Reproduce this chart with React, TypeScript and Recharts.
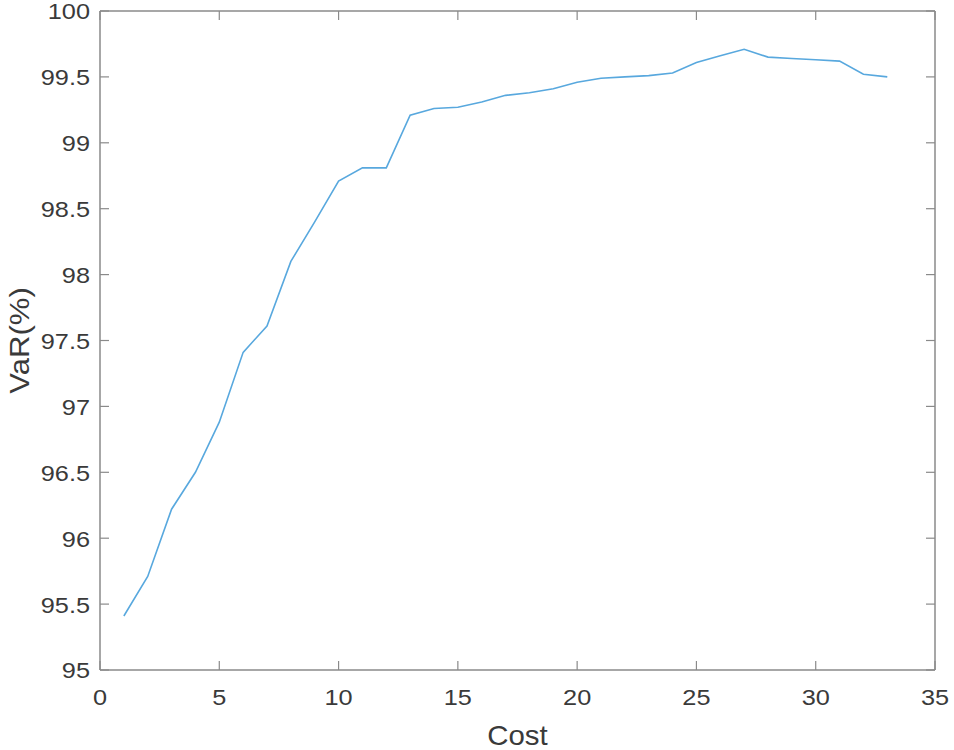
import React from 'react';
import { LineChart, Line, XAxis, YAxis } from 'recharts';

const costs = [1, 2, 3, 4, 5, 6, 7, 8, 9, 10, 11, 12, 13, 14, 15, 16, 17, 18, 19, 20, 21, 22, 23, 24, 25, 26, 27, 28, 29, 30, 31, 32, 33];
const varValues = [95.41, 95.71, 96.22, 96.5, 96.88, 97.41, 97.61, 98.1, 98.4, 98.71, 98.81, 98.81, 99.21, 99.26, 99.27, 99.31, 99.36, 99.38, 99.41, 99.46, 99.49, 99.5, 99.51, 99.53, 99.61, 99.66, 99.71, 99.65, 99.64, 99.63, 99.62, 99.52, 99.5];
const xTicks = [0, 5, 10, 15, 20, 25, 30, 35];
const yTicks = [95, 95.5, 96, 96.5, 97, 97.5, 98, 98.5, 99, 99.5, 100];

const data = costs.map((c, i) => ({ cost: c, value: varValues[i] }));

const FONT = '"Liberation Sans", Arial, Helvetica, sans-serif';
const TEXT = '#3a3a3a';
const AXIS = '#8a8a8a';
const TICK_LEN = 9;

const BottomTick = (props: any) => {
  const { x, y, payload } = props;
  return (
    <g>
      <line x1={x} x2={x} y1={y} y2={y - TICK_LEN} stroke={AXIS} strokeWidth={1.2} />
      <text transform={`translate(${x},${y + 28}) scale(1.15,1)`} x={0} y={0} textAnchor="middle" dominantBaseline="central" fontFamily={FONT} fontSize={22} fill={TEXT}>
        {payload.value}
      </text>
    </g>
  );
};

const TopTick = (props: any) => {
  const { x, y } = props;
  return <line x1={x} x2={x} y1={y} y2={y + TICK_LEN} stroke={AXIS} strokeWidth={1.2} />;
};

const LeftTick = (props: any) => {
  const { x, y, payload } = props;
  return (
    <g>
      <line x1={x} x2={x + TICK_LEN} y1={y} y2={y} stroke={AXIS} strokeWidth={1.2} />
      <text transform={`translate(${x - 10},${y + 1}) scale(1.15,1)`} x={0} y={0} textAnchor="end" dominantBaseline="central" fontFamily={FONT} fontSize={22} fill={TEXT}>
        {payload.value}
      </text>
    </g>
  );
};

const RightTick = (props: any) => {
  const { x, y } = props;
  return <line x1={x} x2={x - TICK_LEN} y1={y} y2={y} stroke={AXIS} strokeWidth={1.2} />;
};

const XTitle = (props: any) => {
  const { viewBox } = props;
  const vb = viewBox || { x: 0, y: 0, width: 0, height: 0 };
  const cx = vb.x + vb.width / 2;
  const cy = vb.y + 65;
  return (
    <text transform={`translate(${cx},${cy}) scale(1.09,1)`} x={0} y={0} textAnchor="middle" dominantBaseline="central" fontFamily={FONT} fontSize={27} fill={TEXT}>
      Cost
    </text>
  );
};

const YTitle = (props: any) => {
  const { viewBox } = props;
  const vb = viewBox || { x: 0, y: 0, width: 0, height: 0 };
  const cx = vb.x + 19;
  const cy = vb.y + vb.height / 2;
  return (
    <text transform={`translate(${cx},${cy}) rotate(-90) scale(1.11,1)`} x={0} y={0} textAnchor="middle" dominantBaseline="central" fontFamily={FONT} fontSize={28} fill={TEXT}>
      VaR(%)
    </text>
  );
};

export default function App() {
  return (
    <div style={{ position: 'absolute', left: 0, top: 0, width: 954, height: 750, background: '#fff', overflow: 'hidden' }}>
      <LineChart width={954} height={750} data={data} margin={{ top: 10, right: 18, bottom: 0, left: 0 }} style={{ overflow: 'visible' }}>
        <XAxis
          xAxisId="bottom"
          dataKey="cost"
          type="number"
          domain={[0, 35]}
          ticks={xTicks}
          orientation="bottom"
          height={80}
          tickSize={0}
          tickMargin={0}
          tickLine={false}
          axisLine={{ stroke: AXIS, strokeWidth: 1.5 }}
          tick={<BottomTick />}
          interval={0}
          label={<XTitle />}
        />
        <XAxis
          xAxisId="top"
          dataKey="cost"
          type="number"
          domain={[0, 35]}
          ticks={xTicks}
          orientation="top"
          height={1}
          tickSize={0}
          tickMargin={0}
          tickLine={false}
          axisLine={{ stroke: AXIS, strokeWidth: 1.5 }}
          tick={<TopTick />}
          interval={0}
        />
        <YAxis
          yAxisId="left"
          type="number"
          domain={[95, 100]}
          ticks={yTicks}
          orientation="left"
          width={100}
          tickSize={0}
          tickMargin={0}
          tickLine={false}
          axisLine={{ stroke: AXIS, strokeWidth: 1.5 }}
          tick={<LeftTick />}
          interval={0}
          allowDataOverflow
          label={<YTitle />}
        />
        <YAxis
          yAxisId="right"
          type="number"
          domain={[95, 100]}
          ticks={yTicks}
          orientation="right"
          width={1}
          tickSize={0}
          tickMargin={0}
          tickLine={false}
          axisLine={{ stroke: AXIS, strokeWidth: 1.5 }}
          tick={<RightTick />}
          interval={0}
          allowDataOverflow
        />
        <Line
          xAxisId="top"
          yAxisId="right"
          dataKey="value"
          type="linear"
          stroke="none"
          strokeWidth={0}
          dot={false}
          activeDot={false}
          legendType="none"
          isAnimationActive={false}
        />
        <Line
          xAxisId="bottom"
          yAxisId="left"
          dataKey="value"
          type="linear"
          stroke="#58a8de"
          strokeWidth={1.6}
          dot={false}
          activeDot={false}
          isAnimationActive={false}
        />
      </LineChart>
    </div>
  );
}
